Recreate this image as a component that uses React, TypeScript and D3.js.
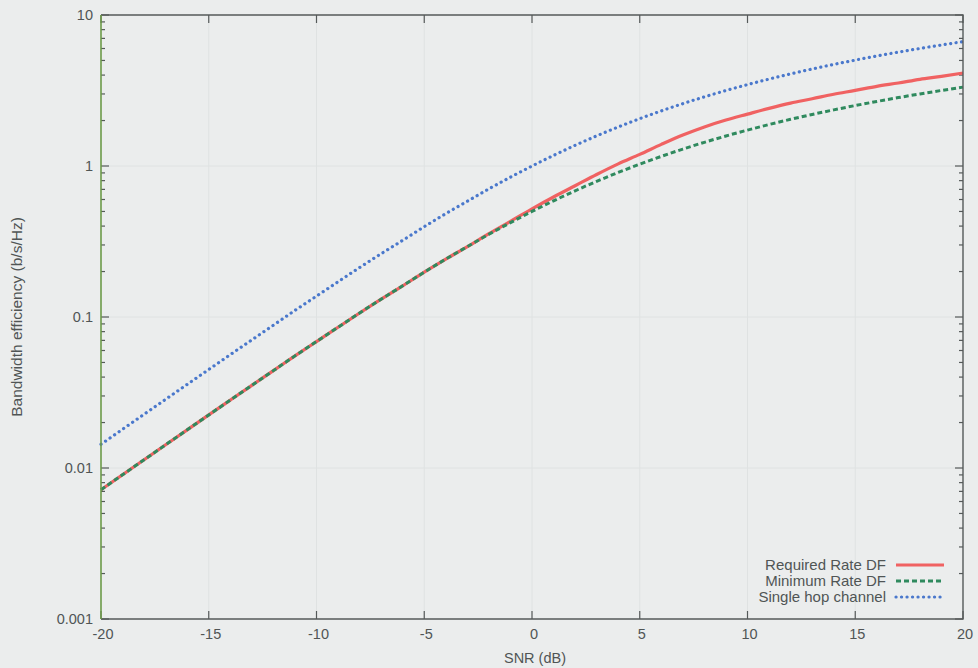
import React, { useEffect, useRef } from "react";
import * as d3 from "d3";

// SNR points in dB
const snrDb = [
  -20, -19, -18, -17, -16, -15, -14, -13, -12, -11, -10, -9, -8, -7, -6, -5, -4, -3, -2, -1, 0,
  1, 2, 3, 4, 5, 6, 7, 8, 9, 10, 11, 12, 13, 14, 15, 16, 17, 18, 19, 20,
];

const requiredRateDF = [
  0.00718, 0.00902, 0.01134, 0.01425, 0.0179, 0.02246, 0.02816, 0.03528, 0.04414, 0.05528,
  0.06875, 0.08553, 0.1063, 0.1312, 0.1609, 0.1982, 0.2419, 0.2923, 0.3564, 0.4301, 0.52,
  0.6231, 0.7398, 0.8784, 1.033, 1.1933, 1.3899, 1.6044, 1.8152, 2.015, 2.2053,
  2.4092, 2.6077, 2.787, 2.9889, 3.1675, 3.371, 3.5474, 3.7513, 3.9244, 4.1281,
];

const minimumRateDF = [
  0.00718, 0.00902, 0.01134, 0.01425, 0.0179, 0.02246, 0.02816, 0.03528, 0.04414, 0.05528,
  0.06875, 0.08553, 0.1063, 0.1312, 0.1609, 0.1982, 0.2419, 0.2923, 0.3529, 0.4217, 0.5,
  0.5878, 0.685, 0.7913, 0.9061, 1.0287, 1.1582, 1.2939, 1.4349, 1.5804, 1.7297,
  1.8822, 2.0373, 2.1945, 2.3535, 2.5139, 2.6754, 2.8379, 3.0011, 3.1649, 3.3291,
];

const singleHop = [
  0.01436, 0.01805, 0.02269, 0.0285, 0.03579, 0.04492, 0.05632, 0.07055, 0.08828, 0.11057,
  0.1375, 0.1711, 0.2126, 0.2625, 0.3219, 0.3964, 0.4838, 0.5847, 0.7057, 0.8434, 1.0,
  1.1756, 1.3701, 1.5827, 1.8122, 2.0574, 2.3165, 2.5878, 2.8698, 3.1608, 3.4594,
  3.7644, 4.0746, 4.389, 4.707, 5.0278, 5.3509, 5.6758, 6.0021, 6.3297, 6.6582,
];

const xTicks = [-20, -15, -10, -5, 0, 5, 10, 15, 20];
const yTicks = [0.001, 0.01, 0.1, 1, 10];
const yTickLabels = ["0.001", "0.01", "0.1", "1", "10"];

const seriesNames = ["Required Rate DF", "Minimum Rate DF", "Single hop channel"];

const App = () => {
  const svgRef = useRef<SVGSVGElement>(null);

  useEffect(() => {
    const svg = d3.select(svgRef.current);
    svg.selectAll("*").remove();

    const width = 978;
    const height = 668;
    const margin = { top: 15, right: 15, bottom: 49, left: 101 };
    const font = "'Liberation Sans', Arial, sans-serif";
    const textColor = "#505555";
    const boxColor = "#555a5a";

    svg.append("rect").attr("width", width).attr("height", height).attr("fill", "#ebeded");

    const x = d3.scaleLinear().domain([-20, 20]).range([margin.left, width - margin.right]);
    const y = d3.scaleLog().domain([0.001, 10]).range([height - margin.bottom, margin.top]);

    const x0 = x.range()[0];
    const x1 = x.range()[1];
    const y0 = y.range()[0];
    const y1 = y.range()[1];

    // grid (faint)
    const grid = svg.append("g").attr("stroke", "#dfe2e2").attr("stroke-width", 1);
    xTicks.slice(1, -1).forEach((t) => {
      grid.append("line").attr("x1", x(t)).attr("x2", x(t)).attr("y1", y0).attr("y2", y1);
    });
    yTicks.slice(1, -1).forEach((t) => {
      grid.append("line").attr("x1", x0).attr("x2", x1).attr("y1", y(t)).attr("y2", y(t));
    });

    // ticks (inside, mirrored)
    const ticks = svg.append("g").attr("stroke", boxColor).attr("stroke-width", 1.2);
    xTicks.forEach((t) => {
      ticks.append("line").attr("x1", x(t)).attr("x2", x(t)).attr("y1", y0).attr("y2", y0 - 8);
      ticks.append("line").attr("x1", x(t)).attr("x2", x(t)).attr("y1", y1).attr("y2", y1 + 8);
    });
    const minor: number[] = [];
    for (let d = 0.001; d < 10; d *= 10) {
      for (let k = 2; k <= 9; k++) minor.push(d * k);
    }
    yTicks.forEach((t) => {
      ticks.append("line").attr("x1", x0).attr("x2", x0 + 8).attr("y1", y(t)).attr("y2", y(t));
      ticks.append("line").attr("x1", x1).attr("x2", x1 - 8).attr("y1", y(t)).attr("y2", y(t));
    });
    minor.forEach((t) => {
      ticks.append("line").attr("x1", x0).attr("x2", x0 + 4).attr("y1", y(t)).attr("y2", y(t));
      ticks.append("line").attr("x1", x1).attr("x2", x1 - 4).attr("y1", y(t)).attr("y2", y(t));
    });

    // series
    const lines = [
      { data: requiredRateDF, color: "#f06262", dash: null, cap: "butt", w: 3.2 },
      { data: minimumRateDF, color: "#2f8a5e", dash: "5,3", cap: "butt", w: 3 },
      { data: singleHop, color: "#4a78cc", dash: "0.1,5.4", cap: "round", w: 3.2 },
    ];
    const line = d3
      .line<number>()
      .curve(d3.curveMonotoneX)
      .x((_, i) => x(snrDb[i]))
      .y((d) => y(d));
    lines.forEach((s) => {
      svg
        .append("path")
        .attr("d", line(s.data))
        .attr("fill", "none")
        .attr("stroke", s.color)
        .attr("stroke-width", s.w)
        .attr("stroke-linecap", s.cap)
        .attr("stroke-dasharray", s.dash);
    });

    // frame
    svg
      .append("path")
      .attr("d", `M${x0},${y0}H${x1}V${y1}H${x0}`)
      .attr("fill", "none")
      .attr("stroke", boxColor)
      .attr("stroke-width", 1.4);
    svg
      .append("line")
      .attr("x1", x0)
      .attr("x2", x0)
      .attr("y1", y0)
      .attr("y2", y1)
      .attr("stroke", "#6c9a48")
      .attr("stroke-width", 1.6);

    // tick labels
    svg
      .append("g")
      .selectAll("text")
      .data(xTicks)
      .join("text")
      .attr("x", (d) => x(d) + 2)
      .attr("y", y0 + 20)
      .attr("text-anchor", "middle")
      .attr("font-family", font)
      .attr("font-size", 14.5)
      .attr("fill", textColor)
      .text((d) => String(d));
    svg
      .append("g")
      .selectAll("text")
      .data(yTicks)
      .join("text")
      .attr("x", x0 - 8)
      .attr("y", (d) => y(d) + 5)
      .attr("text-anchor", "end")
      .attr("font-family", font)
      .attr("font-size", 14.5)
      .attr("fill", textColor)
      .text((_, i) => yTickLabels[i]);

    // axis titles
    svg
      .append("text")
      .attr("x", (x0 + x1) / 2 + 3)
      .attr("y", height - 5)
      .attr("text-anchor", "middle")
      .attr("font-family", font)
      .attr("font-size", 14.5)
      .attr("fill", textColor)
      .text("SNR (dB)");
    svg
      .append("text")
      .attr("transform", `translate(22,${(y0 + y1) / 2}) rotate(-90)`)
      .attr("text-anchor", "middle")
      .attr("font-family", font)
      .attr("font-size", 15.5)
      .attr("fill", textColor)
      .text("Bandwidth efficiency (b/s/Hz)");

    // legend
    const legend = svg.append("g");
    lines.forEach((s, i) => {
      const ly = 565 + i * 16;
      legend
        .append("text")
        .attr("x", 886)
        .attr("y", ly + 5)
        .attr("text-anchor", "end")
        .attr("font-family", font)
        .attr("font-size", 15)
        .attr("fill", textColor)
        .text(seriesNames[i]);
      legend
        .append("line")
        .attr("x1", 896)
        .attr("x2", 944)
        .attr("y1", ly)
        .attr("y2", ly)
        .attr("stroke", s.color)
        .attr("stroke-width", s.w)
        .attr("stroke-linecap", s.cap)
        .attr("stroke-dasharray", s.dash);
    });
  }, []);

  return (
    <svg
      ref={svgRef}
      width={978}
      height={668}
      style={{ position: "absolute", left: 0, top: 0, display: "block" }}
    ></svg>
  );
};

export default App;
